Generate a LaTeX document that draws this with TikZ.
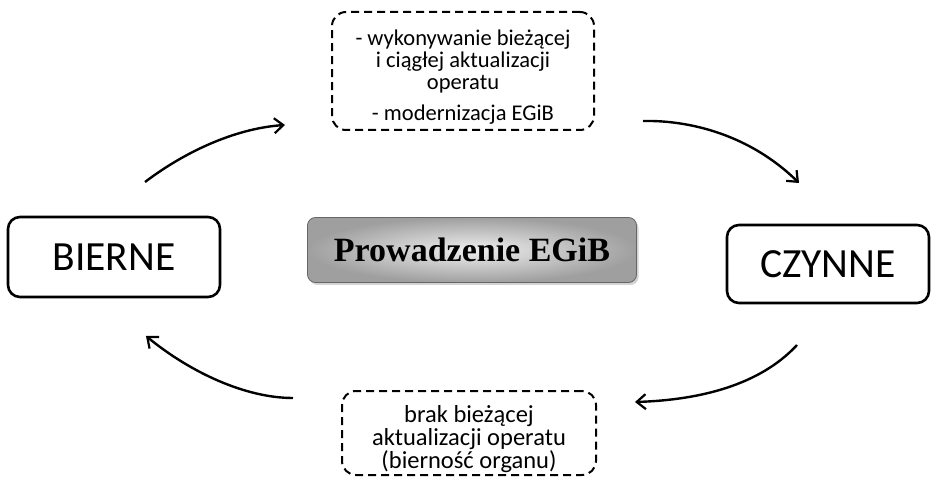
\documentclass[tikz,border=0pt]{standalone}
\usepackage{fontspec}
\setmainfont{Carlito}
\newfontfamily\serifbold{Liberation Serif}
\usetikzlibrary{arrows.meta,shadows}
\begin{document}
\begin{tikzpicture}[x=1pt,y=-1pt,
  statebox/.style={draw=black, line width=2.6pt, rounded corners=12pt, minimum width=#1, minimum height=80pt, inner sep=0pt,
    font=\fontsize{41.5}{44}\selectfont},
  notebox/.style={draw=black, line width=2pt, dash pattern=on 8pt off 5pt, rounded corners=14pt, inner sep=0pt},
  notetext/.style={inner sep=0pt, align=center},
  flow/.style={line width=2.4pt, -{Straight Barb[length=9pt,width=15pt,line width=2.2pt]}}
]
\useasboundingbox (0,0) rectangle (932,486);

% side states
\node[statebox=212pt] (bierne) at (114,257) {BIERNE};
\node[statebox=202pt, minimum height=78pt] (czynne) at (828,264) {CZYNNE};

% central box
\node[draw=gray!80!black, line width=0.8pt, rounded corners=8pt, minimum width=329pt, minimum height=65pt,
  inner color=gray!12, outer color=gray!75,
  drop shadow={shadow xshift=2pt, shadow yshift=-2.5pt, opacity=0.35},
  font=\serifbold\bfseries\fontsize{34}{36}\selectfont] (center) at (472,250) {Prowadzenie EGiB};

% note boxes
\node[notebox, minimum width=262pt, minimum height=118pt] (top) at (463,71) {};
\node[notetext, font=\fontsize{22.5}{22}\selectfont] (toptext) at (463,77)
  {- wykonywanie bieżącej\\ i ciągłej aktualizacji\\ operatu\\[9pt] - modernizacja EGiB};
\node[notebox, minimum width=254pt, minimum height=84pt] (bottom) at (469,433) {};
\node[notetext, font=\fontsize{24.5}{23}\selectfont] (bottomtext) at (469,439)
  {brak bieżącej\\ aktualizacji operatu\\ (bierność organu)};

% arrow end points
\coordinate (a1s) at (145,182); \coordinate (a1e) at (285,125);
\coordinate (a2s) at (643,121); \coordinate (a2e) at (799,183);
\coordinate (a3s) at (293,398); \coordinate (a3e) at (146,336);
\coordinate (a4s) at (797,345); \coordinate (a4e) at (635,402);

\draw[flow] (a1s) .. controls (190,148) and (240,128) .. (a1e);
\draw[flow] (a2s) .. controls (690,120) and (750,135) .. (a2e);
\draw[flow] (a3s) .. controls (245,398) and (190,372) .. (a3e);
\draw[flow] (a4s) .. controls (760,385) and (700,400) .. (a4e);
\end{tikzpicture}
\end{document}
